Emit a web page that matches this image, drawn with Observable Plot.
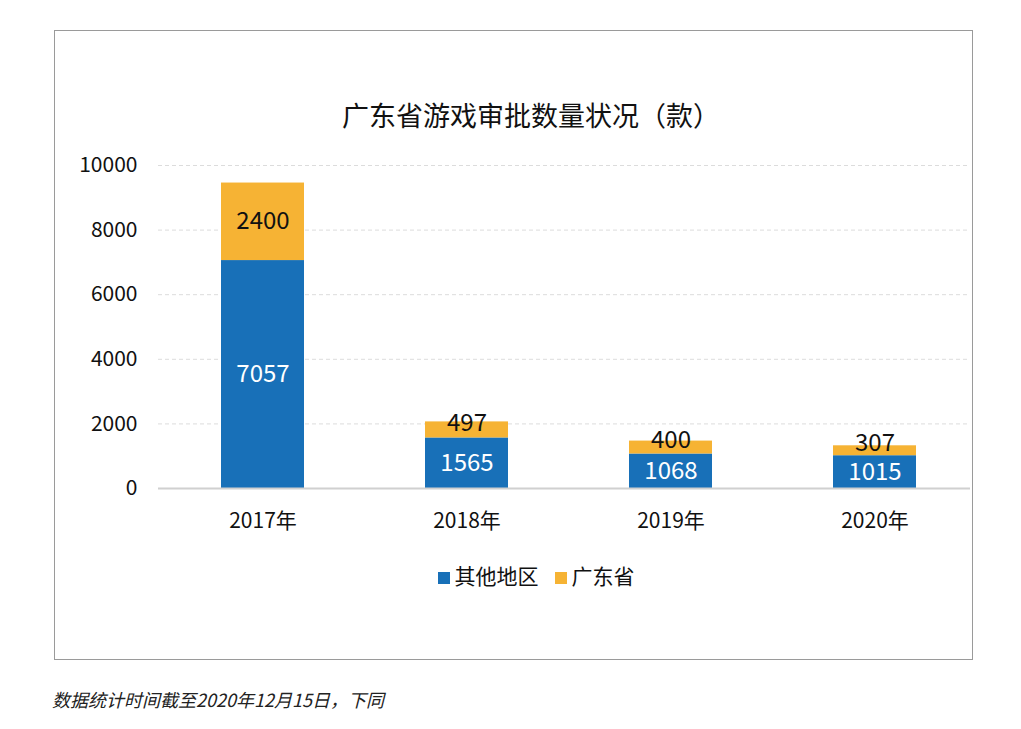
<!DOCTYPE html>
<html>
<head>
<meta charset="utf-8">
<script src="https://cdn.jsdelivr.net/npm/d3@7"></script>
<script src="https://cdn.jsdelivr.net/npm/@observablehq/plot@0.6"></script>
<style>
  body { margin: 0; background: #fff; font-family: "Noto Sans CJK SC", "Noto Sans", sans-serif; }
  #page { position: relative; width: 1021px; height: 729px; overflow: hidden; }
  #frame { position: absolute; left: 54px; top: 30px; width: 917px; height: 628px; border: 1px solid #9a9a9a; }
  #title { position: absolute; left: 0; width: 1062px; top: 95px; text-align: center; font-size: 27px; color: #111; }
  #chart { position: absolute; left: 0; top: 0; }
  #legend { position: absolute; left: 0; width: 1072px; top: 560px; text-align: center; font-size: 21px; color: #111; }
  #legend span.sw { display: inline-block; width: 12px; height: 12px; margin-right: 5px; vertical-align: 0px; }
  #legend span.item { margin: 0 8px; }
  #caption { position: absolute; left: 52px; top: 686px; font-size: 18px; font-style: italic; color: #222; }
</style>
</head>
<body>
<div id="page">
  <div id="frame"></div>
  <div id="chart"></div>
  <div id="title">广东省游戏审批数量状况（款）</div>
  <div id="legend"></div>
  <div id="caption">数据统计时间截至2020年12月15日，下同</div>
</div>
<script>
const years = ["2017年", "2018年", "2019年", "2020年"];
const seriesNames = ["其他地区", "广东省"];
const otherRegions = [7057, 1565, 1068, 1015];
const guangdong = [2400, 497, 400, 307];
const yTicks = [0, 2000, 4000, 6000, 8000, 10000];
const colors = ["#1870b8", "#f6b334"];

const data = [];
years.forEach((y, i) => {
  data.push({year: y, series: seriesNames[0], value: otherRegions[i], order: 0});
  data.push({year: y, series: seriesNames[1], value: guangdong[i], order: 1});
});

const FONT = '"Noto Sans CJK SC", "Noto Sans", sans-serif';
// every text mark stacks the full data; the label is blank where it does not apply
const stackText = (keep, fill, dy) => Plot.text(data, Plot.stackY({
  x: "year", y: "value", z: "series", order: seriesNames,
  text: d => keep(d) ? String(d.value) : "",
  fill, dy,
  fontSize: 24,
  fontFamily: FONT
}));

const chart = Plot.plot({
  width: 1021,
  height: 540,
  marginLeft: 158,
  marginRight: 51,
  marginTop: 165,
  marginBottom: 52,
  style: {fontFamily: FONT, background: "transparent", overflow: "visible", color: "#111"},
  x: {domain: years, paddingInner: 0.595, paddingOuter: 0.278, align: 0.54, label: null, tickSize: 0, tickPadding: 25},
  y: {domain: [0, 10000], ticks: yTicks, tickFormat: d => String(d), label: null, tickSize: 0, tickPadding: 21},
  color: {domain: seriesNames, range: colors},
  marks: [
    Plot.ruleY(yTicks.filter(d => d > 0), {stroke: "#dcdcdc", strokeDasharray: "4,3", strokeWidth: 1}),
    Plot.barY(data, Plot.stackY({x: "year", y: "value", fill: "series", order: seriesNames})),
    Plot.ruleY([0], {stroke: "#d0d0d0", strokeWidth: 2}),
    stackText(d => d.order === 0, "#ffffff", 0),
    stackText(d => d.order === 1 && d.value >= 1000, "#111111", 0),
    stackText(d => d.order === 1 && d.value < 1000, "#111111", -7)
  ]
});

chart.querySelectorAll('g[aria-label="y-axis tick label"], g[aria-label="x-axis tick label"]').forEach(g => {
  g.style.fontSize = "21px";
  g.querySelectorAll("text").forEach(t => t.setAttribute("fill", "#111"));
});
document.getElementById("chart").appendChild(chart);

const legend = document.getElementById("legend");
legend.innerHTML = seriesNames.map((s, i) =>
  `<span class="item"><span class="sw" style="background:${colors[i]}"></span>${s}</span>`).join("");
</script>
</body>
</html>
